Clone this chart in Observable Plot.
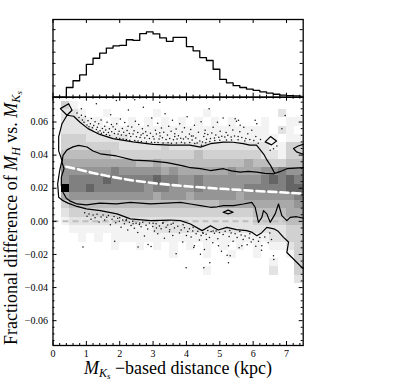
<!DOCTYPE html>
<html><head><meta charset="utf-8">
<script src="https://cdn.jsdelivr.net/npm/d3@7"></script>
<script src="https://cdn.jsdelivr.net/npm/@observablehq/plot@0.6"></script>
<style>
body{margin:0;background:#fff;}
#chart{position:relative;width:399px;height:384px;background:#fff;}
#chart svg{position:absolute;left:0;top:0;}
</style></head><body><div id="chart"></div>
<script>
// ---------------- data ----------------
const histBinStart = [0.4,0.6,0.8,1.0,1.2,1.4,1.6,1.8,2.0,2.2,2.4,2.6,2.8,3.0,3.2,3.4,3.6,3.8,4.0,4.2,4.4,4.6,4.8,5.0,5.2,5.4,5.6,5.8,6.0,6.2,6.4,6.6,6.8,7.0,7.2,7.4];
const histCounts   = [43,73,99,146,173,196,218,228,230,255,252,282,290,281,263,248,266,266,225,206,176,163,124,79,64,51,43,36,30,24,18,13,9,7,6,4];

// 2D histogram: column left edges (kpc), row centres (fraction), grey level per cell (0 = empty)
const gridColX = [0,0.25,0.5,0.75,1,1.25,1.5,1.75,2,2.25,2.5,2.75,3,3.25,3.5,3.75,4,4.25,4.5,4.75,5,5.25,5.5,5.75,6,6.25,6.5,6.75,7,7.25];
const gridRowY = [0.075,0.07,0.065,0.06,0.055,0.05,0.045,0.04,0.035,0.03,0.025,0.02,0.015,0.01,0.005,0,-0.005,-0.01,-0.015,-0.02,-0.025,-0.03,-0.035,-0.04,-0.045,-0.05,-0.055,-0.06,-0.065,-0.07,-0.075];
const gridLevels = [
"00000 00000 00000 00000 00000 00000",
"03100 00000 00000 00000 00000 00000",
"02210 01000 00100 00010 00000 00200",
"02221 10101 01010 10101 01000 10011",
"02222 11111 11111 11111 11111 10210",
"03332 22221 11111 11111 11111 11011",
"03333 33322 22232 22222 22222 21133",
"04444 44333 33333 33433 33333 22133",
"05555 55555 44544 44444 44454 43344",
"06666 66766 66656 55555 56555 66766",
"06777 78777 77877 66766 66666 78787",
"09778 77777 76776 66766 66677 77788",
"05666 66666 66566 65666 66566 66667",
"03444 44444 44444 44444 55555 55556",
"02333 33333 33333 33333 33334 44455",
"01222 22222 22222 22222 22223 33344",
"00111 11111 11222 22222 22222 22233",
"00010 10111 11111 11111 11111 12233",
"00000 00100 10101 01010 10101 01123",
"00000 00000 00001 00010 01001 00013",
"00000 00000 00000 00000 00000 01003",
"00000 00000 00000 00010 00000 02003",
"00000 00000 00000 00000 00000 00002",
"00000 00000 00000 00000 00000 00000",
"00000 00000 00000 00000 00000 00000",
"00000 00000 00000 00000 00000 00000",
"00000 00000 00000 00000 00000 00000",
"00000 00000 00000 00000 00000 00000",
"00000 00000 00000 00000 00000 00000",
"00000 00000 00000 00000 00000 00000",
"00000 00000 00000 00000 00000 00000"
];

// contour lines [x kpc, fraction]
const outerContour = [
[6.64,0.0292],[6.52,0.0338],[6.42,0.0368],[6.32,0.0405],[6.22,0.0430],[6.10,0.0460],[5.90,0.0460],[5.70,0.0470],[5.40,0.0478],[5.11,0.0479],[4.72,0.0469],[4.42,0.0448],[4.10,0.0460],[3.50,0.0460],[3.00,0.0465],[2.40,0.0480],[1.80,0.0500],[1.40,0.0525],[1.05,0.0560],[0.80,0.0600],[0.62,0.0635],[0.42,0.0641],[0.27,0.0590],[0.17,0.0510],[0.17,0.0426],[0.27,0.0368],[0.20,0.0307],[0.14,0.0226],[0.17,0.0145],[0.30,0.0125],[0.45,0.0110],[0.72,0.0090],[1.0,0.0075],[1.42,0.0065],[1.92,0.0045],[2.32,0.0015],[2.92,0.0004],[3.52,0.0008],[3.82,0.0004],[4.12,-0.0016],[4.47,-0.0056],[4.72,-0.0026],[4.95,-0.0052],[5.21,-0.0036],[5.50,-0.0050],[5.81,-0.0056],[5.95,-0.0065],[6.11,-0.0087],[6.25,-0.0070],[6.41,-0.0036],[6.62,-0.0045],[6.75,-0.0060],[6.91,-0.0097],[7.06,-0.0125],[7.01,-0.0188],[7.41,-0.0268],[7.5,-0.0285]
];
const outerLoopTopLeft = [[0.42,0.0641],[0.22,0.0681],[0.47,0.0711],[0.57,0.0671],[0.42,0.0641]];
const outerLoopRight = [[6.36,0.0480],[6.52,0.0512],[6.70,0.0485],[6.55,0.0462],[6.36,0.0480]];
const outerWedgeRight = [[7.5,0.0465],[7.35,0.0455],[7.21,0.0440],[7.30,0.0420],[7.5,0.0405]];
const innerContour = [
[7.5,0.0325],[7.25,0.0322],[7.01,0.0318],[6.8,0.0300],[6.61,0.0287],[6.35,0.0290],[6.11,0.0297],[5.85,0.0302],[5.61,0.0297],[5.35,0.0305],[5.11,0.0318],[4.72,0.0307],[4.42,0.0318],[4.12,0.0324],[3.9,0.0335],[3.42,0.0355],[2.9,0.0365],[2.4,0.0370],[1.9,0.0395],[1.42,0.0408],[1.2,0.0425],[1.02,0.0449],[0.77,0.0459],[0.6,0.0450],[0.42,0.0432],[0.30,0.0398],[0.27,0.0358],[0.33,0.0318],[0.25,0.0267],[0.25,0.0216],[0.30,0.0176],[0.40,0.0140],[0.52,0.0122],[0.72,0.0105],[1.0,0.0100],[1.4,0.0110],[1.9,0.0105],[2.32,0.0115],[2.92,0.0105],[3.4,0.0110],[3.82,0.0115],[4.12,0.0105],[4.42,0.0095],[4.72,0.0085],[4.92,0.0088],[5.11,0.0095],[5.41,0.0095],[5.71,0.0105],[5.96,0.0115],[6.06,0.0085],[6.16,-0.0006],[6.26,0.0024],[6.31,0.0065],[6.41,0.0045],[6.51,-0.0006],[6.66,0.0045],[6.76,0.0105],[6.86,0.0035],[7.01,0.0004],[7.11,0.0024],[7.3,0.0028],[7.5,0.0020]
];
const innerLoop = [[5.10,0.0055],[5.25,0.0068],[5.40,0.0055],[5.25,0.0045],[5.10,0.0055]];

// running median (white dashed)
const medianX = [0.4,0.8,1.2,1.6,2.0,2.4,2.8,3.2,3.6,4.0,4.4,4.8,5.2,5.6,6.0,6.4,6.8,7.2,7.45];
const medianY = [0.0330,0.0312,0.0292,0.0275,0.0260,0.0247,0.0236,0.0227,0.0219,0.0212,0.0206,0.0200,0.0195,0.0190,0.0185,0.0180,0.0176,0.0171,0.0168];

// individual stars outside the outer contour
const starsAbove = [
[0.72,0.0655],[0.78,0.0628],[0.85,0.0641],[0.88,0.0612],[0.93,0.0598],[0.97,0.0633],[1.02,0.0582],[1.05,0.0607],[1.08,0.0571],[1.12,0.0590],[1.15,0.0622],[1.18,0.0566],[1.22,0.0579],[1.26,0.0601],[1.30,0.0555],[1.33,0.0568],[1.37,0.0589],[1.41,0.0548],[1.44,0.0612],[1.48,0.0561],[1.52,0.0539],[1.55,0.0575],[1.58,0.0552],[1.62,0.0598],[1.66,0.0536],[1.69,0.0560],[1.73,0.0644],[1.76,0.0541],[1.80,0.0572],[1.84,0.0530],[1.87,0.0556],[1.91,0.0589],[1.95,0.0527],[1.98,0.0545],[2.02,0.0618],[2.05,0.0522],[2.08,0.0561],[2.12,0.0538],[2.15,0.0597],[2.19,0.0519],[2.22,0.0549],[2.26,0.0672],[2.29,0.0531],[2.33,0.0513],[2.36,0.0570],[2.40,0.0528],[2.43,0.0548],[2.47,0.0605],[2.50,0.0511],[2.54,0.0536],[2.57,0.0585],[2.61,0.0507],[2.64,0.0521],[2.68,0.0559],[2.71,0.0690],[2.75,0.0503],[2.78,0.0541],[2.82,0.0519],[2.85,0.0578],[2.89,0.0500],[2.92,0.0532],[2.96,0.0625],[3.00,0.0512],[3.03,0.0498],[3.07,0.0551],[3.10,0.0527],[3.14,0.0592],[3.18,0.0497],[3.21,0.0516],[3.25,0.0564],[3.28,0.0505],[3.32,0.0538],[3.36,0.0650],[3.39,0.0495],[3.43,0.0521],[3.47,0.0575],[3.50,0.0500],[3.54,0.0545],[3.58,0.0610],[3.61,0.0493],[3.65,0.0529],[3.69,0.0558],[3.72,0.0498],[3.76,0.0517],[3.80,0.0589],[3.83,0.0502],[3.87,0.0540],[3.91,0.0497],[3.94,0.0566],[3.98,0.0509],[4.02,0.0632],[4.05,0.0499],[4.09,0.0527],[4.13,0.0555],[4.17,0.0492],[4.20,0.0515],[4.24,0.0580],[4.28,0.0503],[4.32,0.0474],[4.36,0.0538],[4.40,0.0485],[4.44,0.0601],[4.48,0.0479],[4.52,0.0512],[4.56,0.0550],[4.60,0.0496],[4.64,0.0525],[4.68,0.0680],[4.72,0.0501],[4.76,0.0533],[4.80,0.0569],[4.84,0.0504],[4.88,0.0522],[4.93,0.0598],[4.97,0.0508],[5.01,0.0545],[5.06,0.0514],[5.10,0.0625],[5.15,0.0509],[5.19,0.0537],[5.24,0.0520],[5.29,0.0579],[5.34,0.0510],[5.39,0.0552],[5.44,0.0515],[5.50,0.0605],[5.55,0.0513],[5.60,0.0541],[5.66,0.0507],[5.72,0.0568],[5.78,0.0500],[5.84,0.0529],[5.90,0.0495],[5.96,0.0550],[6.02,0.0489],[6.08,0.0512],[6.15,0.0472],[6.22,0.0495],
[1.60,0.0525],[1.70,0.0518],[1.90,0.0505],[2.00,0.0500],[2.10,0.0497],[2.20,0.0494],[2.30,0.0490],[2.45,0.0488],[2.55,0.0486],[2.65,0.0483],[2.80,0.0480],[2.95,0.0478],[3.05,0.0476],[3.15,0.0477],[3.30,0.0474],[3.45,0.0475],[3.55,0.0472],[3.70,0.0474],[3.85,0.0478],[3.95,0.0474],[4.10,0.0476],[4.25,0.0471],[4.45,0.0460],[4.58,0.0475],[4.70,0.0482],[4.85,0.0488],[5.00,0.0490],[5.20,0.0492],[5.35,0.0491],[5.55,0.0493],[5.75,0.0485],[1.35,0.0540],[1.45,0.0532],[1.75,0.0585],[2.25,0.0575],[2.70,0.0530],[3.20,0.0535],[3.65,0.0512],[4.15,0.0515],[4.55,0.0530],
[0.85,0.0680],[1.30,0.0710],[1.90,0.0730],[2.45,0.0735],[3.20,0.0720],[5.46,0.0620],[5.56,0.0610],[5.61,0.0580],[6.06,0.0610],[6.11,0.0590],[6.86,0.0560],[6.96,0.0640],[6.61,0.0439],[6.51,0.0430],[6.71,0.0455]
];
const starsBelow = [
[0.95,0.0052],[1.02,0.0031],[1.08,0.0045],[1.14,0.0012],[1.20,0.0038],[1.26,0.0021],[1.32,0.0043],[1.38,-0.0004],[1.44,0.0027],[1.50,0.0039],[1.55,0.0008],[1.61,0.0025],[1.66,0.0035],[1.72,-0.0021],[1.77,0.0012],[1.83,0.0030],[1.88,-0.0008],[1.94,0.0019],[1.99,0.0001],[2.04,-0.0035],[2.09,0.0008],[2.14,-0.0014],[2.19,0.0005],[2.24,-0.0052],[2.29,-0.0006],[2.34,-0.0025],[2.39,0.0000],[2.44,-0.0041],[2.49,-0.0012],[2.54,-0.0068],[2.59,-0.0019],[2.64,-0.0033],[2.69,-0.0005],[2.74,-0.0088],[2.79,-0.0024],[2.84,-0.0046],[2.89,-0.0010],[2.94,-0.0152],[2.99,-0.0031],[3.04,-0.0058],[3.09,-0.0015],[3.14,-0.0075],[3.19,-0.0028],[3.24,-0.0044],[3.29,-0.0012],[3.34,-0.0102],[3.39,-0.0036],[3.44,-0.0022],[3.49,-0.0063],[3.54,-0.0018],[3.59,-0.0085],[3.64,-0.0040],[3.69,-0.0195],[3.74,-0.0029],[3.79,-0.0071],[3.84,-0.0052],[3.89,-0.0125],[3.94,-0.0038],[3.99,-0.0280],[4.04,-0.0062],[4.09,-0.0045],[4.14,-0.0095],[4.19,-0.0058],[4.24,-0.0148],[4.29,-0.0075],[4.34,-0.0060],[4.39,-0.0112],[4.44,-0.0085],[4.49,-0.0069],[4.54,-0.0170],[4.59,-0.0078],[4.64,-0.0055],[4.69,-0.0098],[4.74,-0.0062],[4.79,-0.0130],[4.84,-0.0072],[4.89,-0.0058],[4.94,-0.0105],[4.99,-0.0068],[5.05,-0.0180],[5.10,-0.0080],[5.16,-0.0060],[5.22,-0.0205],[5.28,-0.0092],[5.34,-0.0070],[5.40,-0.0120],[5.46,-0.0075],[5.52,-0.0098],[5.58,-0.0160],[5.64,-0.0082],[5.70,-0.0110],[5.76,-0.0088],[5.82,-0.0142],[5.88,-0.0100],[5.94,-0.0125],[6.00,-0.0110],[6.08,-0.0150],[6.16,-0.0120],[6.25,-0.0175],[6.35,-0.0095],[6.45,-0.0130],[6.55,-0.0110],[6.62,-0.0230],[0.90,-0.0155],[1.85,-0.0120],[2.55,-0.0155],[2.85,-0.0140],[4.70,-0.0250],
[2.20,0.0012],[2.60,-0.0010],[3.00,-0.0012],[3.30,-0.0008],[3.60,-0.0012],[3.90,-0.0020],[4.20,-0.0035],[4.50,-0.0072],[4.80,-0.0058],[5.30,-0.0055],[5.60,-0.0062],[5.90,-0.0075],[6.20,-0.0098],[6.50,-0.0070],[2.00,0.0022],[2.40,-0.0015],[3.10,-0.0040],[3.50,-0.0050],[4.00,-0.0085],[4.60,-0.0110],
[4.22,-0.0158],[4.42,-0.0198],[4.52,-0.0280],[4.96,-0.0147],[5.26,-0.0147],[5.31,-0.0208],[5.26,-0.0250],[5.66,-0.0147],[6.26,-0.0147],[6.61,-0.0208]
];

// axis ticks
const xMajor = [0,1,2,3,4,5,6,7];
const xMinor = [0.2,0.4,0.6,0.8,1.2,1.4,1.6,1.8,2.2,2.4,2.6,2.8,3.2,3.4,3.6,3.8,4.2,4.4,4.6,4.8,5.2,5.4,5.6,5.8,6.2,6.4,6.6,6.8,7.2,7.4];
const yMajor = [-0.06,-0.04,-0.02,0,0.02,0.04,0.06];
const yMinor = [-0.072,-0.068,-0.064,-0.056,-0.052,-0.048,-0.044,-0.036,-0.032,-0.028,-0.024,-0.016,-0.012,-0.008,-0.004,0.004,0.008,0.012,0.016,0.024,0.028,0.032,0.036,0.044,0.048,0.052,0.056,0.064,0.068,0.072];
const histTicks = [50,100,150,200,250,300];

// ---------------- layout & styles ----------------
const W = 399, H = 384;
const mL = 52.5, mR = 96.3, topY = 19, splitY = 96.7, botY = 345;
const innerW = W - mL - mR;
const mainInnerH = botY - splitY;
const topInnerH = splitY - topY;
const greys = ["#f3f3f3","#e3e3e3","#d1d1d1","#bdbdbd","#a9a9a9","#959595","#808080","#656565","#000000"];
const FF = "Liberation Serif";

const cells = [];
gridLevels.forEach((row, r) => {
  const s = row.replace(/ /g, "");
  for (let c = 0; c < s.length; c++) {
    const lv = +s[c];
    if (lv > 0) cells.push({x1: gridColX[c], x2: gridColX[c] + 0.25, y1: gridRowY[r] - 0.0025, y2: gridRowY[r] + 0.0025, level: lv});
  }
});
const stars = starsAbove.concat(starsBelow);
const median = medianX.map((x, i) => ({x, y: medianY[i]}));
const histLine = [{x: 0, y: 0}].concat(histBinStart.map((x, i) => ({x, y: histCounts[i]})), [{x: 7.6, y: histCounts[histCounts.length - 1]}]);

function tx(values, len, side, ih) {
  return Plot.tickX(values, {x: d => d, stroke: "black", strokeWidth: 1, [side === "bottom" ? "insetTop" : "insetBottom"]: ih - len});
}
function ty(values, len, side) {
  return Plot.tickY(values, {y: d => d, stroke: "black", strokeWidth: 1, [side === "left" ? "insetRight" : "insetLeft"]: innerW - len});
}
const fontStyle = {fontFamily: FF, fontSize: "10px", background: "transparent", overflow: "visible"};
const contourStyle = {x: d => d[0], y: d => d[1], stroke: "black", strokeWidth: 1.2, strokeLinejoin: "round"};

const mainPlot = Plot.plot({
  width: W, height: H,
  marginLeft: mL, marginRight: mR, marginTop: splitY, marginBottom: H - botY,
  style: fontStyle,
  x: {domain: [0, 7.5], ticks: xMajor, tickSize: 0, tickPadding: 4, tickFormat: d => String(d), label: null},
  y: {domain: [-0.075, 0.075], ticks: yMajor, tickSize: 0, tickPadding: 5, tickFormat: d3.format(".2f"), label: null},
  color: {type: "ordinal", domain: [1,2,3,4,5,6,7,8,9], range: greys},
  marks: [
    Plot.rect(cells, {x1: "x1", x2: "x2", y1: "y1", y2: "y2", fill: "level", shapeRendering: "crispEdges"}),
    Plot.ruleY([0], {stroke: "#bdbdbd", strokeWidth: 2, strokeDasharray: "6,4"}),
    Plot.dot(stars, {x: d => d[0], y: d => d[1], r: 0.75, fill: "#111", stroke: null}),
    Plot.line(outerContour, contourStyle),
    Plot.line(outerLoopTopLeft, contourStyle),
    Plot.line(outerLoopRight, contourStyle),
    Plot.line(outerWedgeRight, contourStyle),
    Plot.line(innerContour, contourStyle),
    Plot.line(innerLoop, contourStyle),
    Plot.line(median, {x: "x", y: "y", stroke: "white", strokeWidth: 2.6, strokeDasharray: "8,4"}),
    Plot.frame({stroke: "black", strokeWidth: 1.3}),
    tx(xMajor, 4, "bottom", mainInnerH), tx(xMinor, 2, "bottom", mainInnerH),
    tx(xMajor, 4, "top", mainInnerH), tx(xMinor, 2, "top", mainInnerH),
    ty(yMajor, 4, "left"), ty(yMinor, 2, "left"),
    ty(yMajor, 4, "right"), ty(yMinor, 2, "right")
  ]
});

const topPlot = Plot.plot({
  width: W, height: H,
  marginLeft: mL, marginRight: mR, marginTop: topY, marginBottom: H - splitY,
  style: fontStyle,
  x: {domain: [0, 7.5], axis: null},
  y: {domain: [0, 345], axis: null},
  marks: [
    Plot.line(histLine, {x: "x", y: "y", curve: "step-after", stroke: "black", strokeWidth: 1.3, clip: true}),
    Plot.frame({stroke: "black", strokeWidth: 1.3}),
    tx(xMajor, 4, "top", topInnerH), tx(xMajor, 4, "bottom", topInnerH), tx(xMinor, 2, "bottom", topInnerH),
    ty(histTicks, 3, "left"), ty(histTicks, 3, "right")
  ]
});

const chart = document.getElementById("chart");
chart.append(mainPlot, topPlot);

// axis titles with subscripts
const svg = d3.select(mainPlot);
const yl = svg.append("text").attr("transform", "translate(17,218) rotate(-90)")
  .attr("text-anchor", "middle").attr("font-size", 18).attr("fill", "black");
yl.append("tspan").text("Fractional difference of ");
yl.append("tspan").attr("font-style", "italic").text("M");
yl.append("tspan").attr("font-style", "italic").attr("font-size", 12).attr("dy", 3).text("H");
yl.append("tspan").attr("dy", -3).text(" vs. ");
yl.append("tspan").attr("font-style", "italic").text("M");
yl.append("tspan").attr("font-style", "italic").attr("font-size", 12).attr("dy", 3).text("K");
yl.append("tspan").attr("font-style", "italic").attr("font-size", 9).attr("dy", 2).text("s");

const xl = svg.append("text").attr("x", 178).attr("y", 374)
  .attr("text-anchor", "middle").attr("font-size", 18).attr("fill", "black");
xl.append("tspan").attr("font-style", "italic").text("M");
xl.append("tspan").attr("font-style", "italic").attr("font-size", 12).attr("dy", 3).text("K");
xl.append("tspan").attr("font-style", "italic").attr("font-size", 9).attr("dy", 2).text("s");
xl.append("tspan").attr("dy", -5).text(" \u2212based distance (kpc)");

// force the serif family on every text element
d3.selectAll("#chart svg text").attr("font-family", FF).style("font-family", FF);
</script></body></html>
